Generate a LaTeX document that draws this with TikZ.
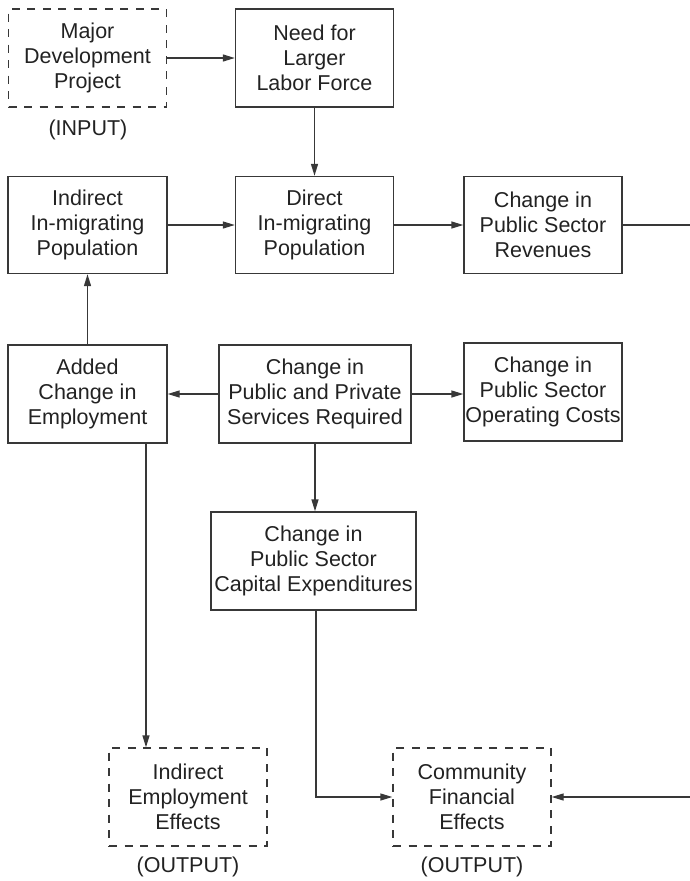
\documentclass[tikz,border=0pt]{standalone}
\usepackage{fontspec}
\setmainfont{Liberation Sans}
\usetikzlibrary{arrows.meta,calc}
\definecolor{ink}{HTML}{222222}
\definecolor{rule}{HTML}{383838}
\begin{document}
\begin{tikzpicture}[x=1pt,y=-1pt,
  box/.style={draw=rule,line width=1.4pt,inner sep=0pt,align=center,
    text=ink,font=\fontsize{21.5}{25}\selectfont,
    minimum width=158pt,minimum height=98pt},
  dbox/.style={box,dash pattern=on 8pt off 7.5pt},
  tag/.style={text=ink,font=\fontsize{21.5}{25}\selectfont,inner sep=0pt},
  arr/.style={draw=rule,line width=1.4pt,-{Triangle[length=12pt,width=7pt]}},
  ln/.style={draw=rule,line width=1.4pt}]
\useasboundingbox (0,0) rectangle (690,881);

% top row
\node[dbox] (mdp) at (87.5,58) {Major\\Development\\Project};
\node[tag] (input) at (88,130) {(INPUT)};
\node[box] (need) at (314.5,58) {Need for\\Larger\\Labor Force};

% population row
\node[box,minimum width=159pt,minimum height=97pt] (indir) at (87.5,225) {Indirect\\In-migrating\\Population};
\node[box,minimum height=97pt] (direct) at (314.5,225) {Direct\\In-migrating\\Population};
\node[box,minimum height=97pt] (rev) at (543,225) {Change in\\Public Sector\\Revenues};

% services row
\node[box,minimum width=159pt] (added) at (87.5,394) {Added\\Change in\\Employment};
\node[box,minimum width=192pt] (pps) at (315,394) {Change in\\Public and Private\\Services Required};
\node[box] (opc) at (543,392) {Change in\\Public Sector\\Operating Costs};

% capital expenditures
\node[box,minimum width=205pt] (cap) at (313.5,561) {Change in\\Public Sector\\Capital Expenditures};

% outputs
\node[dbox] (iee) at (188,797) {Indirect\\Employment\\Effects};
\node[tag] (out1) at (188,867) {(OUTPUT)};
\node[dbox] (cfe) at (472,797) {Community\\Financial\\Effects};
\node[tag] (out2) at (472,867) {(OUTPUT)};

% free ends at the right edge
\coordinate (revend) at (690,225);
\coordinate (cfestart) at (690,797);

% connectors
\draw[arr] (mdp.east) -- (need.west);
\draw[arr] (need.south) -- (direct.north);
\draw[arr] (indir.east) -- (direct.west);
\draw[arr] (direct.east) -- (rev.west);
\draw[ln] (rev.east) -- (revend);
\draw[arr] (added.north) -- (indir.south);
\draw[arr] (pps.west) -- (added.east);
\draw[arr] (pps.east) -- (pps.east -| opc.west);
\draw[arr] (pps.south) -- (pps.south |- cap.north);
\draw[arr] ([xshift=58.5pt]added.south) -- ([xshift=58.5pt]added.south |- iee.north);
\draw[arr] ([xshift=2.5pt]cap.south) |- (cfe.west);
\draw[arr] (cfestart) -- (cfe.east);
\end{tikzpicture}
\end{document}
